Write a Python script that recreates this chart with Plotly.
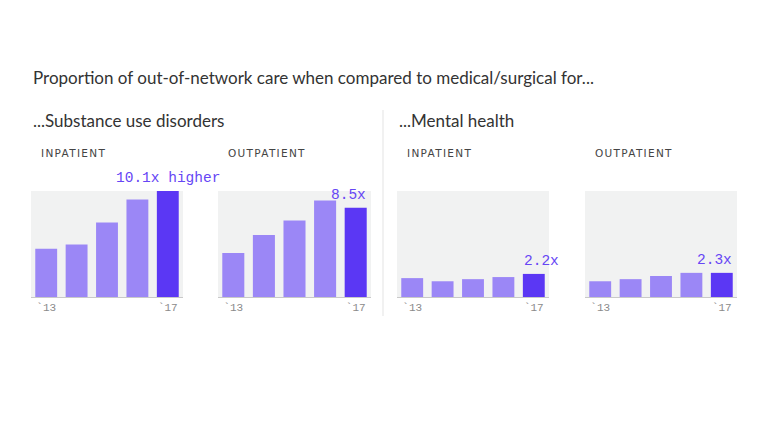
import plotly.graph_objects as go

years = [2013, 2014, 2015, 2016, 2017]
tick_labels = ["`13", "`17"]
sud_inpatient = [4.6, 5.0, 7.1, 9.3, 10.1]
sud_outpatient = [4.2, 5.9, 7.3, 9.2, 8.5]
mh_inpatient = [1.8, 1.5, 1.7, 1.9, 2.2]
mh_outpatient = [1.5, 1.7, 2.0, 2.3, 2.3]
panel_titles = ["INPATIENT", "OUTPATIENT", "INPATIENT", "OUTPATIENT"]
end_labels = ["10.1x higher", "8.5x", "2.2x", "2.3x"]
series = [sud_inpatient, sud_outpatient, mh_inpatient, mh_outpatient]

W, H = 768, 432
OX, OY = 8, 8  # page body offset


def px(x):
    return (x - OX) / W


def py(y):
    return 1 - (y - OY) / H


xdoms = [(31, 183), (218, 371), (397, 549), (585, 737)]
ydom = [py(297), py(191)]

light = "#9b87f6"
dark = "#5b37f4"
mono = "Liberation Mono"
sans = "Lato"

fig = go.Figure()
annotations = []
label_anchor = ["center", "right", "left", "right"]
for i, vals in enumerate(series):
    ax = "" if i == 0 else str(i + 1)
    colors = [light] * (len(vals) - 1) + [dark]
    fig.add_trace(go.Bar(x=years, y=vals, marker=dict(color=colors, line=dict(width=0)),
                         width=0.72,
                         xaxis="x" + ax, yaxis="y" + ax, showlegend=False, hoverinfo="skip"))
    d = xdoms[i]
    fig.update_layout(**{
        "xaxis" + ax: dict(domain=[px(d[0]), px(d[1])], anchor="y" + ax, type="linear",
                           range=[years[0] - 0.5, years[-1] + 0.5], automargin=False,
                           tickmode="array", tickvals=[years[0], years[-1]], ticktext=tick_labels,
                           tickangle=0,
                           showline=True, linecolor="#c9c9c9", linewidth=1,
                           ticks="", showgrid=False, zeroline=False,
                           tickfont=dict(family=mono, size=11, color="#8a8a8a")),
        "yaxis" + ax: dict(domain=ydom, anchor="x" + ax, range=[0, 10.1], visible=False,
                           automargin=False, showgrid=False, zeroline=False),
    })
    anchor = label_anchor[i]
    xs = {"center": 0, "right": 12, "left": -12}[anchor]
    annotations.append(dict(x=years[-1], y=vals[-1], xref="x" + ax, yref="y" + ax,
                            text=end_labels[i], showarrow=False, xanchor=anchor,
                            yanchor="bottom", yshift=3, xshift=xs,
                            font=dict(family=mono, size=14.5, color="#6646f5")))
    annotations.append(dict(x=px(d[0] + 8), y=py(153), xref="paper", yref="paper",
                            text='<span style="letter-spacing:1.3px">' + panel_titles[i] + "</span>",
                            showarrow=False, xanchor="left", yanchor="middle",
                            font=dict(family="DejaVu Sans", size=10.5, color="#444444")))

annotations.append(dict(x=px(31), y=py(78), xref="paper", yref="paper",
                        text="Proportion of out-of-network care when compared to medical/surgical for...",
                        showarrow=False, xanchor="left", yanchor="middle",
                        font=dict(family=sans, size=17, color="#333333")))
annotations.append(dict(x=px(31), y=py(120), xref="paper", yref="paper",
                        text="...Substance use disorders", showarrow=False, xanchor="left",
                        yanchor="middle", font=dict(family=sans, size=17, color="#333333")))
annotations.append(dict(x=px(397), y=py(120), xref="paper", yref="paper",
                        text="...Mental health", showarrow=False, xanchor="left",
                        yanchor="middle", font=dict(family=sans, size=17, color="#333333")))

fig.update_layout(
    width=W, height=H, margin=dict(l=0, r=0, t=0, b=0, autoexpand=False),
    paper_bgcolor="white", plot_bgcolor="#f1f2f2",
    annotations=annotations,
    shapes=[dict(type="line", xref="paper", yref="paper", x0=px(383), x1=px(383),
                 y0=py(110), y1=py(316), line=dict(color="#e3e3e3", width=1))],
)

fig.write_html("out.html")
